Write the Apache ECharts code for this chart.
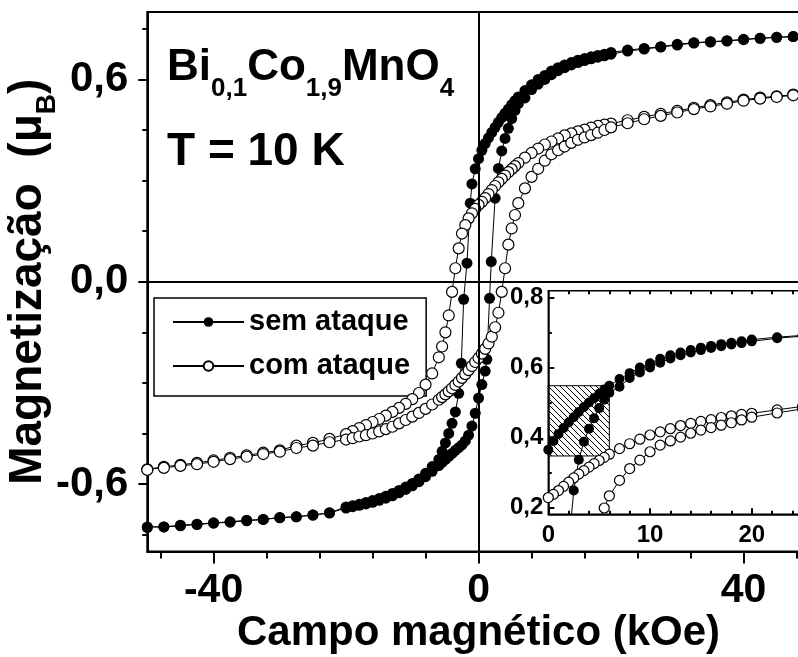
<!DOCTYPE html>
<html><head><meta charset="utf-8">
<script src="https://cdn.jsdelivr.net/npm/echarts@6/dist/echarts.min.js"></script>
<style>html,body{margin:0;padding:0;background:#fff}#c{width:798px;height:657px}</style>
</head><body><div id="c"></div>
<script>
// ---- data (H in kOe, M in muB) ----
// "sem ataque" descending branch (+50 -> -50)
const semDownH = [50,47.5,45,42.5,40,37.5,35,32.5,30,27.5,25,22.5,20,19,18,17,16,15,14,13,12,11,10,9,8,7,6,5.5,5,4.5,4,3.5,3,2.5,2,1.5,1,0.5,0,-0.5,-1,-1.25,-1.75,-2.25,-2.6,-3,-3.5,-4,-4.5,-5,-5.5,-6,-7,-8,-9,-10,-11,-12,-13,-14,-15,-16,-17,-18,-19,-20,-22.5,-25,-27.5,-30,-32.5,-35,-37.5,-40,-42.5,-45,-47.5,-50];
const semDownM = [0.729,0.727,0.725,0.722,0.719,0.715,0.712,0.709,0.704,0.697,0.692,0.687,0.680,0.675,0.671,0.667,0.662,0.657,0.650,0.643,0.635,0.625,0.612,0.600,0.584,0.567,0.548,0.537,0.525,0.512,0.500,0.487,0.473,0.458,0.443,0.427,0.410,0.390,0.365,0.335,0.290,0.233,0.055,-0.052,-0.242,-0.331,-0.386,-0.420,-0.450,-0.478,-0.503,-0.527,-0.548,-0.568,-0.585,-0.598,-0.609,-0.619,-0.628,-0.636,-0.643,-0.649,-0.655,-0.660,-0.664,-0.668,-0.685,-0.692,-0.697,-0.699,-0.705,-0.707,-0.712,-0.715,-0.719,-0.722,-0.727,-0.727];
// "sem ataque" ascending branch (-50 -> +50)
const semUpH = [-50,-47.5,-45,-42.5,-40,-37.5,-35,-32.5,-30,-27.5,-25,-22.5,-20,-19,-18,-17,-16,-15,-14,-13,-12,-11,-10,-9,-8,-7,-6,-5.5,-5,-4.5,-4,-3.5,-3,-2.5,-2,-1.5,-1,-0.5,0,0.5,1,1.25,1.66,1.92,2.5,3,3.5,4,4.5,5,5.5,6,7,8,9,10,11,12,13,14,15,16,17,18,19,20,22.5,25,27.5,30,32.5,35,37.5,40,42.5,45,47.5,50];
const semUpM = [-0.729,-0.727,-0.724,-0.720,-0.716,-0.713,-0.709,-0.705,-0.700,-0.697,-0.692,-0.686,-0.671,-0.667,-0.663,-0.659,-0.654,-0.648,-0.642,-0.635,-0.626,-0.616,-0.605,-0.593,-0.578,-0.562,-0.545,-0.536,-0.527,-0.518,-0.509,-0.500,-0.492,-0.484,-0.472,-0.455,-0.428,-0.390,-0.345,-0.305,-0.265,-0.230,-0.049,0.060,0.248,0.336,0.388,0.425,0.455,0.484,0.508,0.528,0.545,0.570,0.586,0.600,0.614,0.626,0.635,0.643,0.650,0.656,0.661,0.666,0.670,0.675,0.684,0.690,0.696,0.702,0.708,0.711,0.714,0.718,0.722,0.725,0.727,0.729];
// "com ataque" descending branch
const comDownH = [50,47.5,45,42.5,40,37.5,35,32.5,30,27.5,25,22.5,20,19,18,17,16,15,14,13,12,11,10,9,8,7,6,5.5,5,4.5,4,3.5,3,2.5,2,1.5,1,0.5,0,-0.5,-1,-1.5,-2,-2.5,-3,-3.5,-4,-4.5,-5,-5.5,-6,-7,-8,-9,-10,-11,-12,-13,-14,-15,-16,-17,-18,-19,-20,-22.5,-25,-27.5,-30,-32.5,-35,-37.5,-40,-42.5,-45,-47.5,-50];
const comDownM = [0.558,0.555,0.550,0.546,0.540,0.532,0.524,0.516,0.507,0.498,0.489,0.479,0.469,0.466,0.462,0.457,0.451,0.446,0.440,0.434,0.425,0.416,0.407,0.395,0.382,0.368,0.352,0.343,0.334,0.325,0.315,0.305,0.295,0.284,0.272,0.260,0.248,0.237,0.228,0.216,0.203,0.188,0.168,0.143,0.099,0.040,-0.030,-0.100,-0.150,-0.192,-0.224,-0.272,-0.305,-0.330,-0.348,-0.362,-0.374,-0.386,-0.397,-0.407,-0.416,-0.425,-0.434,-0.443,-0.452,-0.466,-0.478,-0.486,-0.500,-0.507,-0.515,-0.522,-0.530,-0.537,-0.543,-0.549,-0.556];
// "com ataque" ascending branch
const comUpH = [-50,-47.5,-45,-42.5,-40,-37.5,-35,-32.5,-30,-27.5,-25,-22.5,-20,-19,-18,-17,-16,-15,-14,-13,-12,-11,-10,-9,-8,-7,-6,-5.5,-5,-4.5,-4,-3.5,-3,-2.5,-2,-1.5,-1,-0.5,0,0.5,1,1.5,2,2.5,3,3.5,4,4.5,5,5.5,6,7,8,9,10,11,12,13,14,15,16,17,18,19,20,22.5,25,27.5,30,32.5,35,37.5,40,42.5,45,47.5,50];
const comUpM = [-0.558,-0.552,-0.546,-0.541,-0.534,-0.526,-0.519,-0.511,-0.504,-0.493,-0.486,-0.476,-0.468,-0.464,-0.459,-0.455,-0.450,-0.444,-0.437,-0.430,-0.420,-0.410,-0.400,-0.389,-0.377,-0.364,-0.350,-0.342,-0.334,-0.325,-0.316,-0.306,-0.296,-0.285,-0.274,-0.262,-0.250,-0.238,-0.226,-0.213,-0.199,-0.183,-0.163,-0.135,-0.092,-0.030,0.040,0.110,0.158,0.198,0.233,0.277,0.311,0.335,0.359,0.378,0.390,0.401,0.412,0.421,0.428,0.435,0.442,0.450,0.458,0.470,0.482,0.492,0.502,0.512,0.520,0.528,0.537,0.543,0.548,0.553,0.557];
// hatched zoom box in inset [Hmin, Hmax, Mmin, Mmax]
const hatchBox = [0, 6, 0.347, 0.548];
// ticks
const xMajor = [-40, 0, 40];
const xMinor = [-48, -32, -24, -16, -8, 8, 16, 24, 32, 48];
const yMajor = [-0.6, 0, 0.6];
const yMinor = [-0.75, -0.45, -0.3, -0.15, 0.15, 0.3, 0.45, 0.75];
const inXMajor = [0, 10, 20];
const inXMinor = [2, 4, 6, 8, 12, 14, 16, 18, 22, 24];
const inYMajor = [0.2, 0.4, 0.6, 0.8];
const inYMinor = [0.3, 0.5, 0.7];
const seriesNames = ['sem ataque', 'com ataque'];

const FONT = '"Liberation Sans", Arial, Helvetica, sans-serif';
const pairs = (h, m) => h.map((x, i) => [x, m[i]]);
const semData = pairs(semDownH, semDownM).concat(pairs(semUpH, semUpM));
const comData = pairs(comDownH, comDownM).concat(pairs(comUpH, comUpM));
const comma = v => (Math.round(v * 10) / 10).toFixed(1).replace('.', ',');

// hatch pattern
const pc = document.createElement('canvas'); pc.width = 6; pc.height = 6;
const g = pc.getContext('2d'); g.strokeStyle = '#000'; g.lineWidth = 1;
g.beginPath(); g.moveTo(0, 0); g.lineTo(6, 6); g.moveTo(-1, 5); g.lineTo(1, 7); g.moveTo(5, -1); g.lineTo(7, 1); g.stroke();

const chart = echarts.init(document.getElementById('c'), null, {renderer: 'canvas'});
const noLine = {show: false, onZero: false};
const mkX = (grid, pos, min, max, tickVals, len, inside, labelVals, labelStyle, width) => ({
  type: 'value', gridIndex: grid, position: pos, min, max,
  axisLine: width ? {show: true, onZero: false, lineStyle: {color: '#000', width}} : noLine,
  axisTick: {show: true, inside, length: len, customValues: tickVals, lineStyle: {color: '#000', width: 2}},
  axisLabel: labelVals ? Object.assign({show: true, customValues: labelVals}, labelStyle) : {show: false},
  splitLine: {show: false}
});
const lbl = (size, margin, fmt, extra) => Object.assign({fontSize: size, fontWeight: 'bold', fontFamily: FONT, color: '#000', margin, formatter: fmt}, extra || {});

const option = {
  animation: false,
  backgroundColor: '#fff',
  title: [
    {left: 167, top: 58, padding: 0,
     text: '{b|Bi}{s|0,1}{b|Co}{s|1,9}{b|MnO}{s|4}',
     textStyle: {rich: {
       b: {fontSize: 44, fontWeight: 'bold', fontFamily: FONT, color: '#000', lineHeight: 44, padding: [0, 0, 12, 0], verticalAlign: 'bottom'},
       s: {fontSize: 26, fontWeight: 'bold', fontFamily: FONT, color: '#000', lineHeight: 26, verticalAlign: 'bottom'}}}},
    {left: 167, top: 129, padding: 0, text: 'T = 10 K',
     textStyle: {fontSize: 46, fontWeight: 'bold', fontFamily: FONT, color: '#000', lineHeight: 46}}
  ],
  legend: {
    orient: 'vertical', left: 154, top: 298, padding: [8, 16, 14, 18], itemGap: 12,
    itemWidth: 71, itemHeight: 12, borderColor: '#000', borderWidth: 1.5, backgroundColor: '#fff',
    selectedMode: false, data: seriesNames,
    textStyle: {fontSize: 29, fontWeight: 'bold', fontFamily: FONT, color: '#000', lineHeight: 32}
  },
  grid: [
    {left: 147.3, top: 12, right: -11.8, bottom: 105.5, outerBoundsMode: 'none', containLabel: false,
     show: true, borderColor: '#000', borderWidth: 2, backgroundColor: 'transparent'},
    {left: 548.3, top: 290.7, right: -4.6, bottom: 142.7, outerBoundsMode: 'none', containLabel: false,
     show: true, borderColor: '#000', borderWidth: 1.5, backgroundColor: '#fff'}
  ],
  xAxis: [
    Object.assign(mkX(0, 'bottom', -50, 50, xMajor, 12, false, xMajor, lbl(41, 19), 2), {
      name: 'Campo magnético (kOe)', nameLocation: 'middle', nameGap: 61, nameMoveOverlap: false,
      nameTextStyle: {fontSize: 42, fontWeight: 'bold', fontFamily: FONT, color: '#000', lineHeight: 42}}),
    mkX(0, 'bottom', -50, 50, xMinor, 7, false, null),
    mkX(1, 'bottom', 0, 25, inXMajor, 6, true, inXMajor, lbl(24, 9), 1.5),
    mkX(1, 'bottom', 0, 25, inXMinor, 3.5, true, null),
    mkX(1, 'top', 0, 25, inXMinor.concat([10, 20]), 3.5, true, null)
  ],
  yAxis: [
    Object.assign(mkX(0, 'left', -0.8, 0.8, yMajor, 9, false, yMajor, lbl(42, 19, comma, {padding: [0, 0, 8, 0]}), 2), {
      name: '{a|Magnetização  (μ}{s|B}{a|)}', nameLocation: 'middle', nameGap: 86, nameRotate: 90, nameMoveOverlap: false,
      nameTextStyle: {rich: {
        a: {fontSize: 46, fontWeight: 'bold', fontFamily: FONT, color: '#000', lineHeight: 46, padding: [0, 0, 10, 0], verticalAlign: 'bottom'},
        s: {fontSize: 28, fontWeight: 'bold', fontFamily: FONT, color: '#000', lineHeight: 28, verticalAlign: 'bottom'}}}}),
    mkX(0, 'left', -0.8, 0.8, yMinor, 5, false, null),
    mkX(1, 'left', 0.18, 0.82, inYMajor, 6, true, inYMajor, lbl(24, 5, comma), 1.5),
    mkX(1, 'left', 0.18, 0.82, inYMinor, 3.5, true, null)
  ],
  series: [
    {name: seriesNames[0], type: 'line', xAxisIndex: 0, yAxisIndex: 0, data: semData, showAllSymbol: true,
     symbol: 'circle', symbolSize: 11, itemStyle: {color: '#000', borderWidth: 0}, lineStyle: {color: '#000', width: 1}, z: 3,
     markLine: {silent: true, symbol: ['none', 'none'], label: {show: false}, lineStyle: {color: '#000', width: 2, type: 'solid'},
       data: [{xAxis: 0}, {yAxis: 0}]}},
    {name: seriesNames[1], type: 'line', xAxisIndex: 0, yAxisIndex: 0, data: comData, showAllSymbol: true,
     symbol: 'circle', symbolSize: 11, itemStyle: {color: '#fff', borderColor: '#000', borderWidth: 1.2}, lineStyle: {color: '#000', width: 1}, z: 4},
    {type: 'custom', xAxisIndex: 2, yAxisIndex: 2, z: 2, silent: true, data: [hatchBox], encode: {x: [0, 1], y: [2, 3]},
     renderItem: function (params, api) {
       const a = api.coord([api.value(0), api.value(3)]);
       const b = api.coord([api.value(1), api.value(2)]);
       return {type: 'rect', shape: {x: a[0], y: a[1], width: b[0] - a[0], height: b[1] - a[1]},
         style: {fill: {image: pc, repeat: 'repeat'}, stroke: '#000', lineWidth: 1}};
     }},
    {name: seriesNames[0], type: 'line', xAxisIndex: 2, yAxisIndex: 2, data: semData, showAllSymbol: true, clip: true,
     symbol: 'circle', symbolSize: 10, itemStyle: {color: '#000', borderWidth: 0}, lineStyle: {color: '#000', width: 1}, z: 5},
    {name: seriesNames[1], type: 'line', xAxisIndex: 2, yAxisIndex: 2, data: comData, showAllSymbol: true, clip: true,
     symbol: 'circle', symbolSize: 10, itemStyle: {color: '#fff', borderColor: '#000', borderWidth: 1.2}, lineStyle: {color: '#000', width: 1}, z: 6}
  ]
};
chart.setOption(option);
</script>
</body></html>
